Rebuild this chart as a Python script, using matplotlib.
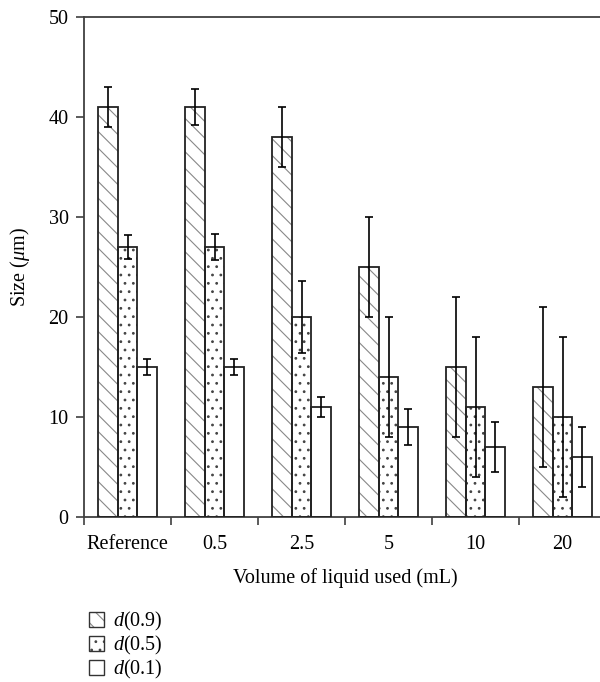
import numpy as np
import matplotlib
matplotlib.use("Agg")
import matplotlib.pyplot as plt
from matplotlib.patches import Patch
from matplotlib.legend_handler import HandlerTuple

plt.rcParams["font.family"] = "Liberation Serif"
plt.rcParams["mathtext.fontset"] = "custom"
plt.rcParams["mathtext.rm"] = "Liberation Serif"
plt.rcParams["mathtext.it"] = "Liberation Serif:italic"
plt.rcParams["hatch.linewidth"] = 0.8

categories = ["Reference", "0.5", "2.5", "5", "10", "20"]
d09 = [41, 41, 38, 25, 15, 13]
d09_err = [2, 1.8, 3, 5, 7, 8]
d05 = [27, 27, 20, 14, 11, 10]
d05_err = [1.2, 1.3, 3.6, 6, 7, 8]
d01 = [15, 15, 11, 9, 7, 6]
d01_err = [0.8, 0.8, 1, 1.8, 2.5, 3]
labels = ["$d$(0.9)", "$d$(0.5)", "$d$(0.1)"]
hatches = ["\\\\", "..", ""]
hatch_colors = ["#888888", "#444444", "#888888"]

fs = 14.5
fig = plt.figure(figsize=(6, 6.82), dpi=100)
ax = fig.add_axes([0.14, 0.242, 0.87, 0.733])

x = np.arange(len(categories))
w = 0.223
handles = []
for k, (vals, errs, h, hc) in enumerate(zip([d09, d05, d01], [d09_err, d05_err, d01_err],
                                            hatches, hatch_colors)):
    pos = x + (k - 1) * w
    # hatch layer in grey, outline in black on top
    ax.bar(pos, vals, w, color="white", edgecolor=hc, hatch=h, linewidth=0, zorder=2)
    ax.bar(pos, vals, w, fill=False, edgecolor="#222222", linewidth=1.3, zorder=3)
    ax.errorbar(pos, vals, yerr=errs, fmt="none", ecolor="black", elinewidth=1.2,
                capsize=3, capthick=1.2, zorder=4)
    handles.append((Patch(facecolor="white", edgecolor=hc, hatch=h, linewidth=0),
                    Patch(fill=False, edgecolor="#333333", linewidth=1.0)))

ax.set_xlim(-0.5, 5.5)
ax.set_ylim(0, 50)
ax.set_yticks([0, 10, 20, 30, 40, 50])
ax.set_xticks(x)
ax.set_xticklabels(categories)
ax.set_xticks(np.arange(-0.5, 6, 1), minor=True)
ax.tick_params(axis="x", which="major", length=0, labelsize=fs, pad=13)
ax.tick_params(axis="x", which="minor", length=6, width=1.2, color="#404040")
ax.tick_params(axis="y", length=6, width=1.2, color="#404040", labelsize=fs, pad=5)
for s in ["left", "bottom", "top"]:
    ax.spines[s].set_color("#404040")
    ax.spines[s].set_linewidth(1.3)
ax.spines["right"].set_visible(False)

ax.set_xlabel("Volume of liquid used (mL)", fontsize=fs, labelpad=10)
ax.set_ylabel("Size ($\\mu$m)", fontsize=fs, labelpad=12)

fig.legend(handles, labels, handler_map={tuple: HandlerTuple(ndivide=1, pad=0)},
           loc="upper left", bbox_to_anchor=(0.148, 0.106), frameon=False,
           fontsize=fs, handlelength=0.75, handleheight=0.75, handletextpad=0.45,
           labelspacing=0.05, borderaxespad=0, borderpad=0)

fig.savefig("out.png", dpi=100)
